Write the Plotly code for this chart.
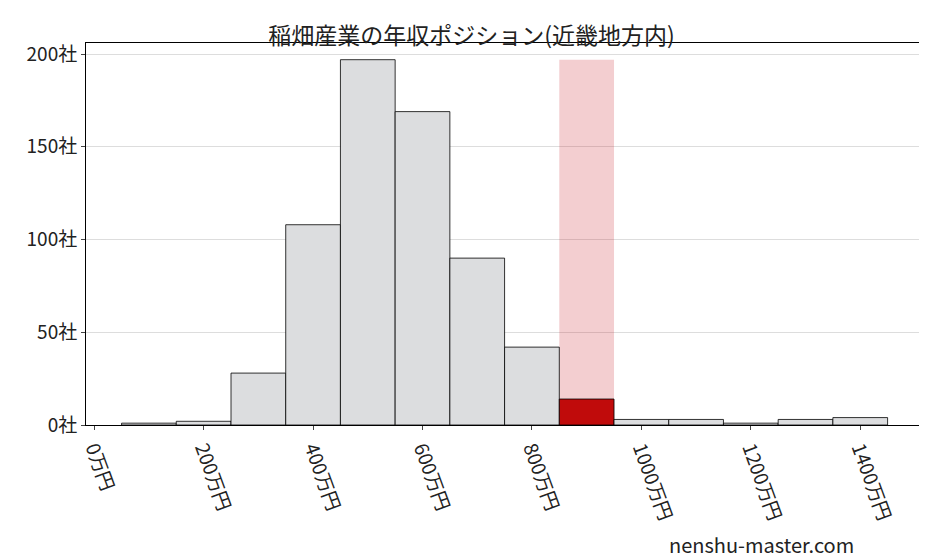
import plotly.graph_objects as go

centers = [100, 200, 300, 400, 500, 600, 700, 800, 900, 1000, 1100, 1200, 1300, 1400]
counts = [1, 2, 28, 108, 197, 169, 90, 42, 14, 3, 3, 1, 3, 4]
highlight_x = 900
highlight_max = 197
tick_vals = [0, 200, 400, 600, 800, 1000, 1200, 1400]
tick_text = [f"{v}万円" for v in tick_vals]
y_vals = [0, 50, 100, 150, 200]
y_text = [f"{v}社" for v in y_vals]

colors = ["#c00b0b" if c == highlight_x else "#dcdddf" for c in centers]

fig = go.Figure()
fig.add_trace(go.Bar(x=[highlight_x], y=[highlight_max], width=100,
                     marker=dict(color="rgba(200,30,40,0.22)", line=dict(width=0)),
                     hoverinfo="skip"))
fig.add_trace(go.Bar(x=centers, y=counts, width=100,
                     marker=dict(color=colors, line=dict(color="black", width=0.8))))
fig.update_layout(
    width=927, height=557, barmode="overlay", showlegend=False,
    plot_bgcolor="white", paper_bgcolor="white",
    font=dict(family="Noto Sans CJK JP", size=19, color="#222"),
    title=dict(text="稲畑産業の年収ポジション(近畿地方内)", x=0.5, y=0.965, xanchor="center",
               font=dict(size=23)),
    margin=dict(l=78, r=8, t=35, b=140),
    xaxis=dict(range=[-15, 1522], tickvals=tick_vals, ticktext=tick_text, tickangle=70,
               showgrid=False, showline=True, linecolor="black", mirror=True,
               ticks="outside", ticklen=4, zeroline=False),
    yaxis=dict(range=[0, 206], tickvals=y_vals, ticktext=y_text, showgrid=True,
               gridcolor="#dddddd", showline=True, linecolor="black", mirror=True,
               ticks="outside", ticklen=4, zeroline=False),
    annotations=[dict(text="nenshu-master.com", xref="paper", yref="paper",
                      x=0.916, y=-0.314, xanchor="right", yanchor="middle", showarrow=False,
                      font=dict(size=20))],
)
fig.write_html("out.html")
